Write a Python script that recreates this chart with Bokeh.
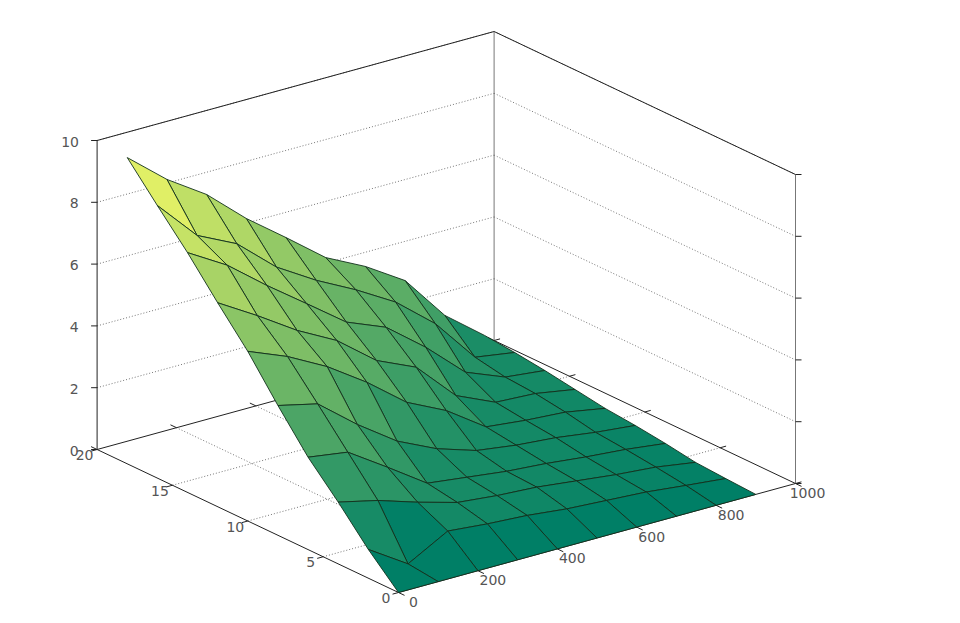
from bokeh.plotting import figure
from bokeh.models import Range1d, ColumnDataSource
from bokeh.core.properties import value
from bokeh.embed import file_html
from bokeh.resources import INLINE

x_values = [0, 100, 200, 300, 400, 500, 600, 700, 800, 900]
y_values = [0, 2, 4, 6, 8, 10, 12, 14, 16, 18]
z_row_0 = [0.00, 0.00, 0.00, 0.00, 0.00, 0.00, 0.00, 0.00, 0.00, 0.00]
z_row_1 = [0.93, 0.11, 0.82, 0.70, 0.62, 0.48, 0.40, 0.32, 0.18, 0.05]
z_row_2 = [2.00, 1.70, 1.29, 0.93, 0.80, 0.72, 0.57, 0.42, 0.31, 0.11]
z_row_3 = [2.99, 2.80, 1.96, 1.09, 0.93, 0.77, 0.67, 0.53, 0.42, 0.26]
z_row_4 = [4.20, 3.90, 2.88, 1.99, 1.39, 0.98, 0.80, 0.69, 0.51, 0.38]
z_row_5 = [5.49, 4.97, 4.29, 3.43, 2.43, 1.81, 0.93, 0.79, 0.70, 0.47]
z_row_6 = [6.60, 5.83, 5.00, 4.32, 3.32, 2.75, 1.48, 0.91, 0.84, 0.62]
z_row_7 = [7.76, 7.00, 5.99, 5.05, 4.10, 3.58, 2.58, 1.42, 0.91, 0.77]
z_row_8 = [8.82, 7.50, 6.88, 5.77, 4.99, 4.33, 3.58, 2.53, 1.09, 0.89]
z_row_9 = [9.91, 8.85, 8.01, 6.88, 5.91, 4.91, 4.27, 3.46, 1.98, 0.98]
z_rows = [z_row_0, z_row_1, z_row_2, z_row_3, z_row_4,
          z_row_5, z_row_6, z_row_7, z_row_8, z_row_9]

x_ticks = [0, 200, 400, 600, 800, 1000]
y_ticks = [0, 5, 10, 15, 20]
z_ticks = [0, 2, 4, 6, 8, 10]
X_MAX, Y_MAX, Z_MAX = 1000, 20, 10


def proj(x, y, z=0.0):
    sx = 398.0 + 0.397 * x - 15.07 * y
    sy = 592.0 - 0.109 * x - 7.15 * y - 30.9 * z
    return sx, sy


def summer(t):
    r = max(0.0, min(1.0, t))
    return "#%02x%02x%02x" % (int(r * 255), int((0.5 + r / 2) * 255), 102)


p = figure(width=944, height=615, output_backend="svg", toolbar_location=None,
           x_range=Range1d(0, 944), y_range=Range1d(615, 0),
           x_axis_type=None, y_axis_type=None, min_border=0)
p.outline_line_color = None
p.xgrid.visible = False
p.ygrid.visible = False
p.background_fill_color = "white"


def seg(a, b):
    return [a[0], b[0]], [a[1], b[1]]


# dotted grids
gx, gy = [], []
for z in z_ticks[1:]:
    for a, b in [(proj(0, Y_MAX, z), proj(X_MAX, Y_MAX, z)),
                 (proj(X_MAX, Y_MAX, z), proj(X_MAX, 0, z))]:
        sx, sy = seg(a, b)
        gx.append(sx)
        gy.append(sy)
for x in x_ticks[1:-1]:
    sx, sy = seg(proj(x, 0), proj(x, Y_MAX))
    gx.append(sx)
    gy.append(sy)
for y in y_ticks[1:-1]:
    sx, sy = seg(proj(0, y), proj(X_MAX, y))
    gx.append(sx)
    gy.append(sy)
p.multi_line(gx, gy, line_color="#777777", line_width=1, line_dash="1 2")

# box lines
box_dark = [
    (proj(0, Y_MAX, Z_MAX), proj(X_MAX, Y_MAX, Z_MAX)),
    (proj(X_MAX, Y_MAX, Z_MAX), proj(X_MAX, 0, Z_MAX)),
    (proj(0, Y_MAX, 0), proj(X_MAX, Y_MAX, 0)),
    (proj(X_MAX, Y_MAX, 0), proj(X_MAX, 0, 0)),
    (proj(0, 0, 0), proj(X_MAX, 0, 0)),
    (proj(0, 0, 0), proj(0, Y_MAX, 0)),
    (proj(0, Y_MAX, 0), proj(0, Y_MAX, Z_MAX)),
]
bx = [seg(a, b)[0] for a, b in box_dark]
by = [seg(a, b)[1] for a, b in box_dark]
p.multi_line(bx, by, line_color="#222222", line_width=1)
box_gray = [
    (proj(X_MAX, Y_MAX, 0), proj(X_MAX, Y_MAX, Z_MAX)),
    (proj(X_MAX, 0, 0), proj(X_MAX, 0, Z_MAX)),
]
p.multi_line([seg(a, b)[0] for a, b in box_gray],
             [seg(a, b)[1] for a, b in box_gray],
             line_color="#777777", line_width=1)

# ticks
tx, ty = [], []
for z in z_ticks:
    a = proj(0, Y_MAX, z)
    tx.append([a[0], a[0] - 6]); ty.append([a[1], a[1]])
    a = proj(X_MAX, 0, z)
    tx.append([a[0], a[0] + 6]); ty.append([a[1], a[1]])
for x in x_ticks:
    a = proj(x, 0)
    b = proj(x, -0.4)
    tx.append([a[0], b[0]]); ty.append([a[1], b[1]])
    a = proj(x, Y_MAX)
    b = proj(x, Y_MAX + 0.4)
    tx.append([a[0], b[0]]); ty.append([a[1], b[1]])
for y in y_ticks:
    a = proj(0, y)
    b = proj(-15, y)
    tx.append([a[0], b[0]]); ty.append([a[1], b[1]])
    a = proj(X_MAX, y)
    b = proj(X_MAX + 15, y)
    tx.append([a[0], b[0]]); ty.append([a[1], b[1]])
p.multi_line(tx, ty, line_color="#222222", line_width=1)

# surface, painted from far to near
xs, ys, colors = [], [], []
n_i, n_j = len(x_values), len(y_values)
for j in range(n_j - 2, -1, -1):
    for i in range(n_i - 2, -1, -1):
        corners = [(i, j), (i + 1, j), (i + 1, j + 1), (i, j + 1)]
        pts = [proj(x_values[a], y_values[b], z_rows[b][a]) for a, b in corners]
        xs.append([q[0] for q in pts])
        ys.append([q[1] for q in pts])
        colors.append(summer(z_rows[j][i] / Z_MAX))
p.patches(xs="xs", ys="ys", fill_color="colors", line_color="#12301c", line_width=0.9,
          source=ColumnDataSource(dict(xs=xs, ys=ys, colors=colors)))

# tick labels
lab_x, lab_y, lab_t = [], [], []
for z in z_ticks:
    a = proj(0, Y_MAX, z)
    lab_x.append(a[0] - 27 + (4 if z < 10 else 0)); lab_y.append(a[1] + 1); lab_t.append(str(z))
for y in y_ticks:
    a = proj(0, y)
    lab_x.append(a[0] - 12.5); lab_y.append(a[1] + 5.5); lab_t.append(str(y))
for x in x_ticks:
    a = proj(x, 0)
    lab_x.append(a[0] + (15 if x < X_MAX else 12)); lab_y.append(a[1] + 9.5); lab_t.append(str(x))
p.text(lab_x, lab_y, lab_t, text_font=value("DejaVu Sans"), text_font_size="14px",
       text_color="#555555", text_align="center", text_baseline="middle")

open("out.html", "w").write(file_html(p, INLINE))
